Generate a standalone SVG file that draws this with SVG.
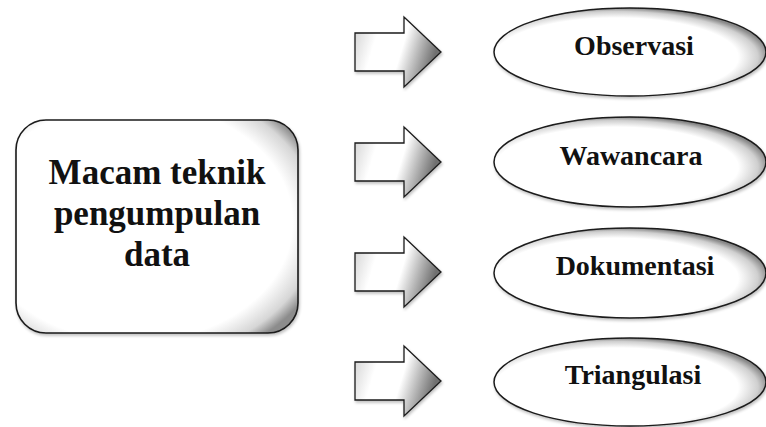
<svg xmlns="http://www.w3.org/2000/svg" width="766" height="427" viewBox="0 0 766 427">
  <defs>
    <!-- bevel shading for the rounded box -->
    <radialGradient id="boxShade" cx="0.42" cy="0.48" r="0.7">
      <stop offset="0" stop-color="#ffffff"/>
      <stop offset="0.8" stop-color="#ffffff"/>
      <stop offset="0.93" stop-color="#d6d6d6"/>
      <stop offset="1" stop-color="#8c8c8c"/>
    </radialGradient>
    <!-- bevel shading for the ellipses -->
    <radialGradient id="ovalShade" cx="0.45" cy="0.56" r="0.56">
      <stop offset="0" stop-color="#ffffff"/>
      <stop offset="0.8" stop-color="#ffffff"/>
      <stop offset="0.93" stop-color="#cfcfcf"/>
      <stop offset="1" stop-color="#8a8a8a"/>
    </radialGradient>
    <linearGradient id="arrowShade" x1="0" y1="0" x2="1" y2="0.25">
      <stop offset="0" stop-color="#cfcfcf"/>
      <stop offset="0.3" stop-color="#ffffff"/>
      <stop offset="0.62" stop-color="#ffffff"/>
      <stop offset="1" stop-color="#707070"/>
    </linearGradient>
    <filter id="soft" x="-10%" y="-10%" width="120%" height="125%">
      <feGaussianBlur in="SourceAlpha" stdDeviation="1.8"/>
      <feOffset dx="1" dy="2"/>
      <feComponentTransfer><feFuncA type="linear" slope="0.25"/></feComponentTransfer>
      <feMerge><feMergeNode/><feMergeNode in="SourceGraphic"/></feMerge>
    </filter>
    <path id="arrow" d="M0,-19 H49 V-35 L86,0 L49,35 V19 H0 Z"/>
  </defs>
  <style>
    .box { fill: url(#boxShade); stroke: #1a1a1a; stroke-width: 1.6; filter: url(#soft); }
    .oval { fill: url(#ovalShade); stroke: #1a1a1a; stroke-width: 1.5; filter: url(#soft); }
    .arr { fill: url(#arrowShade); stroke: #1a1a1a; stroke-width: 1.3; filter: url(#soft); }
    .big { font-family: 'Liberation Serif', serif; font-weight: bold; font-size: 35px; fill: #111; text-anchor: middle; }
    .lbl { font-family: 'Liberation Serif', serif; font-weight: bold; font-size: 28px; fill: #111; text-anchor: middle; }
  </style>

  <g id="main">
    <rect class="box" x="16" y="120" width="282" height="213" rx="30" ry="30"/>
    <text class="big" x="157" y="184">Macam teknik</text>
    <text class="big" x="157" y="225">pengumpulan</text>
    <text class="big" x="157" y="266">data</text>
  </g>

  <g id="connectors">
    <use href="#arrow" class="arr" transform="translate(355,52)"/>
    <use href="#arrow" class="arr" transform="translate(355,162)"/>
    <use href="#arrow" class="arr" transform="translate(355,272)"/>
    <use href="#arrow" class="arr" transform="translate(355,381)"/>
  </g>

  <g id="observasi">
    <ellipse class="oval" cx="630" cy="52" rx="136" ry="44"/>
    <text class="lbl" x="634" y="55">Observasi</text>
  </g>
  <g id="wawancara">
    <ellipse class="oval" cx="630" cy="162" rx="136" ry="45"/>
    <text class="lbl" x="631" y="165">Wawancara</text>
  </g>
  <g id="dokumentasi">
    <ellipse class="oval" cx="630" cy="273" rx="136" ry="45"/>
    <text class="lbl" x="635" y="275">Dokumentasi</text>
  </g>
  <g id="triangulasi">
    <ellipse class="oval" cx="630" cy="382" rx="136" ry="44"/>
    <text class="lbl" x="633" y="384">Triangulasi</text>
  </g>
</svg>
